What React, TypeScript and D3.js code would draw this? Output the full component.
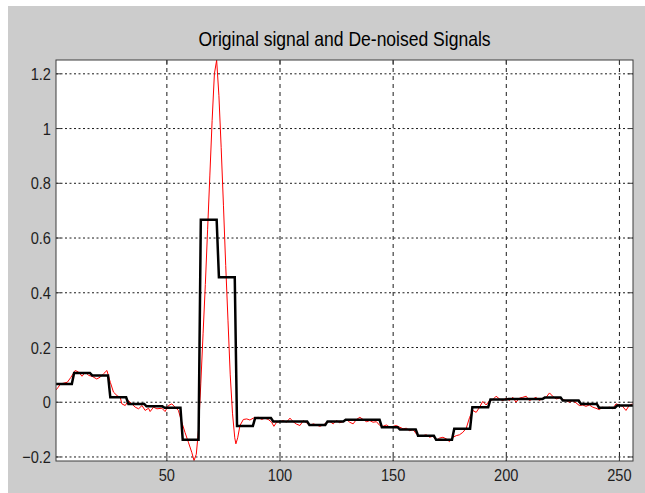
import React from "react";
import * as d3 from "d3";

// ---- Data ----
const title = "Original signal and De-noised Signals";
const xTicks = [50, 100, 150, 200, 250];
const yTicks = [-0.2, 0, 0.2, 0.4, 0.6, 0.8, 1, 1.2];
const xDomain = [1, 256];
const yDomain = [-0.2147, 1.2505];

// Original (noisy) signal: sample index and value
const origX = [
  1, 2, 3, 4.5, 6, 7.5, 9.5, 11, 12.5, 14, 15.4, 16.9, 19, 20.6, 22, 23.5, 25, 26.4, 28, 29.4,
  30.1, 31.6, 33, 34.5, 36, 37.5, 39, 40.4, 41.9, 42.6, 44.1, 45.6, 47.8, 49.2, 50.7, 52.2, 53.6, 55.1, 56.6, 58,
  59.5, 61, 62, 63, 64, 65, 66, 67, 68, 69, 70, 71, 72, 73, 74, 75, 76, 77, 78, 79,
  80, 80.5, 81.3, 82.3, 83.8, 85.3, 86.7, 88.2, 90.4, 91.9, 93.3, 94.8, 96.3, 97.3, 98.5, 100, 101.4, 102.9, 104.4, 105.8,
  107.3, 108.8, 110.3, 111.7, 113.2, 114.7, 116.1, 117.6, 119.1, 120.5, 122, 123.5, 125, 126.4, 127.9, 129.4, 130.8, 132.3, 133.8, 135.3,
  136.7, 138.2, 139.7, 141.1, 142.6, 144.1, 145.5, 147, 148.5, 150, 151.4, 152.9, 154.4, 155.8, 157.3, 158.8, 160.3, 161.7, 163.2, 164.6,
  166.1, 167.6, 169.1, 170.5, 172, 173.5, 174.9, 176.4, 177.9, 179.3, 180.8, 182.3, 183.8, 185.2, 186.7, 188.2, 189.6, 191.1, 192.6, 194.1,
  195.5, 197, 198.5, 199.9, 201.4, 202.9, 204.3, 205.8, 207.3, 208.8, 210.2, 211.7, 213.2, 214.6, 216.1, 217.6, 219.1, 220.5, 222, 223.5,
  224.9, 226.4, 227.9, 229.3, 230.8, 232.3, 233.8, 235.2, 236.7, 238.2, 239.6, 241.1, 242.6, 244, 245.5, 247, 248.5, 249.9, 251.4, 252.9,
  254.3, 255.8,
];
const origY = [
  0.045, 0.055, 0.067, 0.07, 0.073, 0.09, 0.116, 0.11, 0.095, 0.11, 0.098, 0.095, 0.085, 0.092, 0.104, 0.116, 0.073, 0.037, 0.024, 0.018,
  -0.006, -0.012, 0.006, -0.006, -0.018, -0.024, -0.012, -0.03, -0.022, -0.034, -0.018, -0.024, -0.022, -0.034, -0.012, -0.006, -0.018, -0.03, -0.073, -0.11,
  -0.146, -0.183, -0.213, -0.19, -0.1, 0.07, 0.25, 0.43, 0.63, 0.83, 1.03, 1.2, 1.25, 1.12, 0.93, 0.72, 0.5, 0.3, 0.1, -0.04,
  -0.13, -0.152, -0.13, -0.085, -0.063, -0.061, -0.065, -0.058, -0.055, -0.063, -0.058, -0.063, -0.073, -0.088, -0.073, -0.071, -0.067, -0.073, -0.058, -0.071,
  -0.08, -0.085, -0.067, -0.075, -0.085, -0.079, -0.083, -0.088, -0.083, -0.075, -0.07, -0.079, -0.067, -0.075, -0.071, -0.063, -0.073, -0.079, -0.063, -0.055,
  -0.063, -0.071, -0.067, -0.073, -0.071, -0.085, -0.088, -0.083, -0.091, -0.088, -0.085, -0.091, -0.097, -0.095, -0.104, -0.1, -0.116, -0.125, -0.122, -0.119,
  -0.128, -0.124, -0.14, -0.131, -0.128, -0.134, -0.144, -0.128, -0.122, -0.119, -0.11, -0.095, -0.055, -0.03, -0.037, -0.018, 0.003, -0.01, 0.006, 0.01,
  0.022, 0.012, 0.006, 0.015, 0.006, 0.018, 0.0, 0.015, 0.018, 0.022, 0.006, 0.012, 0.018, 0.006, 0.015, 0.018, 0.034, 0.022, 0.012, 0.015,
  0.01, 0.006, 0.0, 0.006, -0.002, -0.012, -0.01, -0.015, -0.01, -0.018, -0.022, -0.027, -0.018, -0.022, -0.018, -0.024, -0.006, -0.01, -0.015, -0.03,
  -0.012, -0.006,
];

// De-noised signal: block start/end sample and constant level
const denoisedStart = [1, 9, 17, 25, 33, 41, 49, 57, 65, 73, 81, 89, 97, 105, 113, 121, 129, 137, 145, 153, 161, 169, 177, 185, 193, 201, 209, 217, 225, 233, 241, 249];
const denoisedEnd = [8, 16, 24, 32, 40, 48, 56, 64, 72, 80, 88, 96, 104, 112, 120, 128, 136, 144, 152, 160, 168, 176, 184, 192, 200, 208, 216, 224, 232, 240, 248, 256];
const denoisedLevel = [
  0.067, 0.107, 0.098, 0.018, -0.006, -0.015, -0.02, -0.137, 0.667, 0.457, -0.087, -0.058, -0.07, -0.07, -0.083, -0.07,
  -0.064, -0.064, -0.091, -0.1, -0.122, -0.137, -0.097, -0.018, 0.01, 0.012, 0.012, 0.017, 0.006, -0.006, -0.02, -0.012,
];

export default function App() {
  const W = 645, H = 493;
  const L = 56, R = 633, T = 60, B = 461;
  const x = d3.scaleLinear().domain(xDomain).range([L, R]);
  const y = d3.scaleLinear().domain(yDomain).range([B, T]);

  const origPts: [number, number][] = origX.map((v, i) => [v, origY[i]]);
  const denPts: [number, number][] = [];
  denoisedLevel.forEach((lv, i) => {
    denPts.push([denoisedStart[i], lv]);
    denPts.push([denoisedEnd[i], lv]);
  });
  const line = d3.line<[number, number]>().x((d) => x(d[0])).y((d) => y(d[1]));

  const font = "'Liberation Sans', Arial, Helvetica, sans-serif";
  const axisColor = "#3c3c3c";
  const textColor = "#1e1e1e";
  const sx = 0.86;

  return (
    <svg width={W} height={H} style={{ position: "absolute", left: 0, top: 0 }}>
      <rect x={0} y={0} width={W} height={H} fill="#ffffff" />
      <rect x={8} y={6} width={W - 8} height={H - 6} fill="#cccccc" />
      <rect x={L} y={T} width={R - L} height={B - T} fill="#ffffff" />
      <defs>
        <clipPath id="plotclip">
          <rect x={L} y={T - 1} width={R - L} height={B - T + 2} />
        </clipPath>
      </defs>
      {/* grid */}
      {yTicks.map((t) => (
        <line key={"gy" + t} x1={L} x2={R} y1={y(t)} y2={y(t)} stroke="#1a1a1a" strokeWidth={1} strokeDasharray="2,2.5" />
      ))}
      {xTicks.map((t) => (
        <line key={"gx" + t} x1={x(t)} x2={x(t)} y1={T} y2={B} stroke="#1a1a1a" strokeWidth={1} strokeDasharray="4,4" />
      ))}
      {/* ticks */}
      {yTicks.map((t) => (
        <g key={"ty" + t}>
          <line x1={L} x2={L + 5} y1={y(t)} y2={y(t)} stroke={axisColor} />
          <line x1={R} x2={R - 5} y1={y(t)} y2={y(t)} stroke={axisColor} />
        </g>
      ))}
      {xTicks.map((t) => (
        <g key={"tx" + t}>
          <line x1={x(t)} x2={x(t)} y1={B} y2={B - 5} stroke={axisColor} />
          <line x1={x(t)} x2={x(t)} y1={T} y2={T + 5} stroke={axisColor} />
        </g>
      ))}
      <g clipPath="url(#plotclip)">
        <path d={line(origPts) || ""} fill="none" stroke="#ff0000" strokeWidth={1} />
        <path d={line(denPts) || ""} fill="none" stroke="#000000" strokeWidth={2.5} strokeLinejoin="miter" />
      </g>
      <rect x={L} y={T} width={R - L} height={B - T} fill="none" stroke={axisColor} strokeWidth={1} />
      {/* tick labels */}
      {yTicks.map((t) => (
        <text
          key={"ly" + t}
          transform={`translate(${L - 5},${y(t) + 6}) scale(${sx},1)`}
          textAnchor="end"
          fontFamily={font}
          fontSize={17}
          fill={textColor}
        >
          {d3.format("")(+t.toFixed(1))}
        </text>
      ))}
      {xTicks.map((t) => (
        <text
          key={"lx" + t}
          transform={`translate(${x(t)},${B + 20}) scale(${sx},1)`}
          textAnchor="middle"
          fontFamily={font}
          fontSize={17}
          fill={textColor}
        >
          {t}
        </text>
      ))}
      <text
        transform={`translate(${(L + R) / 2},${T - 14}) scale(0.835,1)`}
        textAnchor="middle"
        fontFamily={font}
        fontSize={21}
        fill="#000000"
      >
        {title}
      </text>
    </svg>
  );
}
